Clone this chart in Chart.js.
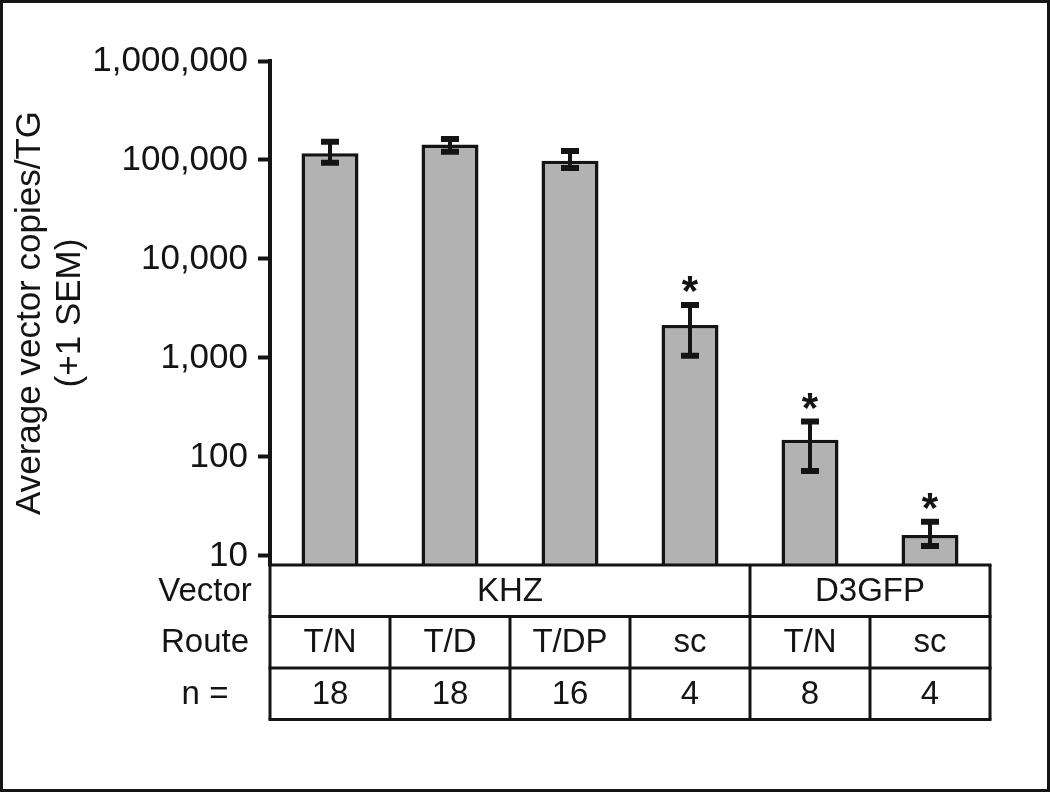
<!DOCTYPE html>
<html>
<head>
<meta charset="utf-8">
<script src="https://cdn.jsdelivr.net/npm/chart.js@4"></script>
<style>
  html, body { margin: 0; padding: 0; background: #fff; }
  #wrap { width: 1050px; height: 792px; }
</style>
</head>
<body>
<div id="wrap"><canvas id="vector-chart" width="1050" height="792"></canvas></div>
<script>
// data
const routes = ['T/N', 'T/D', 'T/DP', 'sc', 'T/N', 'sc'];
const vectors = ['KHZ', 'KHZ', 'KHZ', 'KHZ', 'D3GFP', 'D3GFP'];
const nValues = [18, 18, 16, 4, 8, 4];
const means = [117000, 143000, 98500, 2150, 149, 16.3];
const errHigh = [153000, 163000, 123000, 3430, 228, 22.2];
const errLow = [94000, 121000, 83000, 1050, 72, 12.6];
const marks = ['', '', '', '*', '*', '*'];
const yTicks = [10, 100, 1000, 10000, 100000, 1000000];

const ink = '#141414';
const fontName = "'Liberation Sans', Arial, sans-serif";

//error bars + asterisks
const errPlugin = {
  id: 'errBars',
  afterDatasetsDraw(chart) {
    const { ctx, scales: { x, y } } = chart;
    ctx.save();
    ctx.strokeStyle = ink;
    ctx.fillStyle = ink;
    means.forEach((m, i) => {
      const cx = x.getPixelForValue(i);
      const yHi = y.getPixelForValue(errHigh[i]);
      const yLo = y.getPixelForValue(errLow[i]);
      ctx.lineWidth = 4;
      ctx.beginPath();
      ctx.moveTo(cx, yHi);
      ctx.lineTo(cx, yLo);
      ctx.stroke();
      ctx.lineWidth = 6;
      ctx.beginPath();
      ctx.moveTo(cx - 9, yHi);
      ctx.lineTo(cx + 9, yHi);
      ctx.moveTo(cx - 9, yLo);
      ctx.lineTo(cx + 9, yLo);
      ctx.stroke();
      if (marks[i]) {
        ctx.font = 'bold 42px ' + fontName;
        ctx.textAlign = 'center';
        ctx.textBaseline = 'alphabetic';
        ctx.fillText(marks[i], cx, yHi);
      }
    });
    ctx.restore();
  }
};

//table under the bars + frame
const tablePlugin = {
  id: 'tableBelow',
  afterDraw(chart) {
    const { ctx, scales: { x }, chartArea } = chart;
    const n = routes.length;
    const colW = x.width / n;
    const left = x.left, right = x.right;
    const top = chartArea.bottom;
    const rowH = 51.5;
    const rows = [top, top + rowH, top + 2 * rowH, top + 3 * rowH];
    ctx.save();
    ctx.strokeStyle = ink;
    ctx.lineWidth = 3;
    // horizontal lines
    rows.forEach(r => {
      ctx.beginPath();
      ctx.moveTo(left - 1.5, r);
      ctx.lineTo(right + 1.5, r);
      ctx.stroke();
    });
    // outer verticals
    ctx.beginPath();
    ctx.moveTo(left, rows[0]); ctx.lineTo(left, rows[3]);
    ctx.moveTo(right, rows[0]); ctx.lineTo(right, rows[3]);
    ctx.stroke();
    // vector row group lines
    for (let i = 1; i < n; i++) {
      const ex = left + i * colW;
      if (vectors[i] !== vectors[i - 1]) {
        ctx.beginPath();
        ctx.moveTo(ex, rows[0]); ctx.lineTo(ex, rows[1]);
        ctx.stroke();
      }
      ctx.beginPath();
      ctx.moveTo(ex, rows[1]); ctx.lineTo(ex, rows[3]);
      ctx.stroke();
    }

    ctx.fillStyle = ink;
    ctx.font = '33px ' + fontName;
    ctx.textAlign = 'center';
    ctx.textBaseline = 'middle';
    // row labels
    const labX = 205;
    ctx.fillText('Vector', labX, rows[0] + rowH / 2 + 1);
    ctx.fillText('Route', labX, rows[1] + rowH / 2 + 1);
    ctx.fillText('n =', labX, rows[2] + rowH / 2 + 1);
    // vector groups
    let start = 0;
    for (let i = 1; i <= n; i++) {
      if (i === n || vectors[i] !== vectors[start]) {
        const cx = left + (start + i) / 2 * colW;
        ctx.fillText(vectors[start], cx, rows[0] + rowH / 2 + 1);
        start = i;
      }
    }
    routes.forEach((r, i) => {
      const cx = x.getPixelForValue(i);
      ctx.fillText(r, cx, rows[1] + rowH / 2 + 1);
      ctx.fillText(String(nValues[i]), cx, rows[2] + rowH / 2 + 1);
    });

    // outer frame
    ctx.lineWidth = 3;
    ctx.strokeRect(1.5, 1.5, chart.width - 3, chart.height - 3);
    ctx.restore();
  }
};

const ctx = document.getElementById('vector-chart').getContext('2d');

new Chart(ctx, {
  type: 'bar',
  data: {
    labels: routes,
    datasets: [{
      data: means,
      backgroundColor: '#b2b2b2',
      borderColor: ink,
      borderWidth: 3.5,
      categoryPercentage: 1,
      barPercentage: 0.475
    }]
  },
  options: {
    responsive: false,
    animation: false,
    events: [],
    layout: {
      padding: { left: 0, right: 60, top: 61, bottom: 227 }
    },
    plugins: {
      legend: { display: false },
      tooltip: { enabled: false }
    },
    scales: {
      x: {
        display: false
      },
      y: {
        type: 'logarithmic',
        min: 8.1,
        max: 1000000,
        afterFit(scale) { scale.width = 270; },
        afterBuildTicks(scale) {
          scale.ticks = yTicks.map(v => ({ value: v }));
        },
        ticks: {
          padding: 10,
          color: ink,
          font: { family: fontName, size: 35 },
          callback: v => Number(v).toLocaleString('en-US')
        },
        grid: {
          drawOnChartArea: false,
          drawTicks: true,
          tickLength: 12,
          tickWidth: 4,
          tickColor: ink
        },
        border: {
          display: true,
          width: 4,
          color: ink
        },
        title: {
          display: true,
          text: ['Average vector copies/TG', '(+1 SEM)'],
          color: ink,
          font: { family: fontName, size: 35, lineHeight: 1.15 },
          padding: { top: 10, bottom: 0 }
        }
      }
    }
  },
  plugins: [errPlugin, tablePlugin]
});
</script>
</body>
</html>
